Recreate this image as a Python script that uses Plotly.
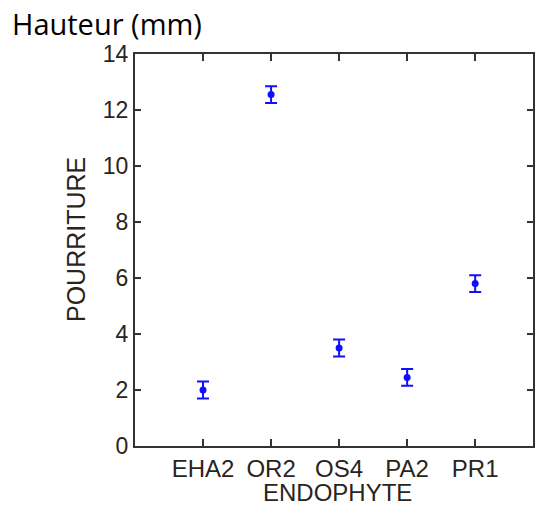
import plotly.graph_objects as go

categories = ["EHA2", "OR2", "OS4", "PA2", "PR1"]
means = [2.0, 12.55, 3.5, 2.45, 5.8]
errors = [0.3, 0.3, 0.3, 0.3, 0.3]
positions = [1, 2, 3, 4, 5]
y_ticks = [0, 2, 4, 6, 8, 10, 12, 14]

fig = go.Figure()
fig.add_trace(go.Scatter(
    x=positions, y=means, mode="markers",
    marker=dict(color="#1010ff", size=7),
    error_y=dict(type="data", array=errors, color="#1010ff", thickness=2, width=6),
    showlegend=False,
))

fam = "Liberation Sans, Arial, sans-serif"
xtick_font = dict(family=fam, size=24, color="#2a2420")
ytick_font = dict(family=fam, size=23, color="#2a2420")
title_font = dict(family=fam, size=25, color="#2a2420")
xtitle_font = dict(family=fam, size=24, color="#2a2420")

fig.update_layout(
    width=537, height=506,
    margin=dict(l=135, r=4, t=54, b=60),
    paper_bgcolor="white", plot_bgcolor="white",
    xaxis=dict(
        range=[0, 5.85], tickmode="array", tickvals=positions, ticktext=categories,
        ticks="inside", ticklen=7, tickwidth=2, tickcolor="#333",
        showline=True, linecolor="#333", linewidth=2, mirror="ticks",
        showgrid=False, zeroline=False, tickfont=xtick_font, automargin=False,
    ),
    yaxis=dict(
        range=[0, 14], tickmode="array", tickvals=y_ticks,
        ticks="inside", ticklen=6, tickwidth=2, tickcolor="#333",
        showline=True, linecolor="#333", linewidth=2, mirror="ticks",
        showgrid=False, zeroline=False, tickfont=ytick_font, automargin=False,
    ),
)

fig.add_annotation(
    text="POURRITURE", xref="paper", yref="paper", x=-(135 - 76) / 398, y=(446 - 240) / 392,
    xanchor="center", yanchor="middle", textangle=-90, showarrow=False,
    font=title_font,
)

fig.add_annotation(
    text="ENDOPHYTE", xref="paper", yref="paper", x=(337 - 135) / 398, y=-(492 - 446) / 392,
    xanchor="center", yanchor="middle", showarrow=False,
    font=xtitle_font,
)

fig.add_annotation(
    text="Hauteur (mm)", xref="paper", yref="paper", x=-125/398, y=1.0,
    xanchor="left", yanchor="bottom", yshift=9, showarrow=False,
    font=dict(family="Open Sans, sans-serif", size=29, color="black"),
)

fig.write_html("out.html")
